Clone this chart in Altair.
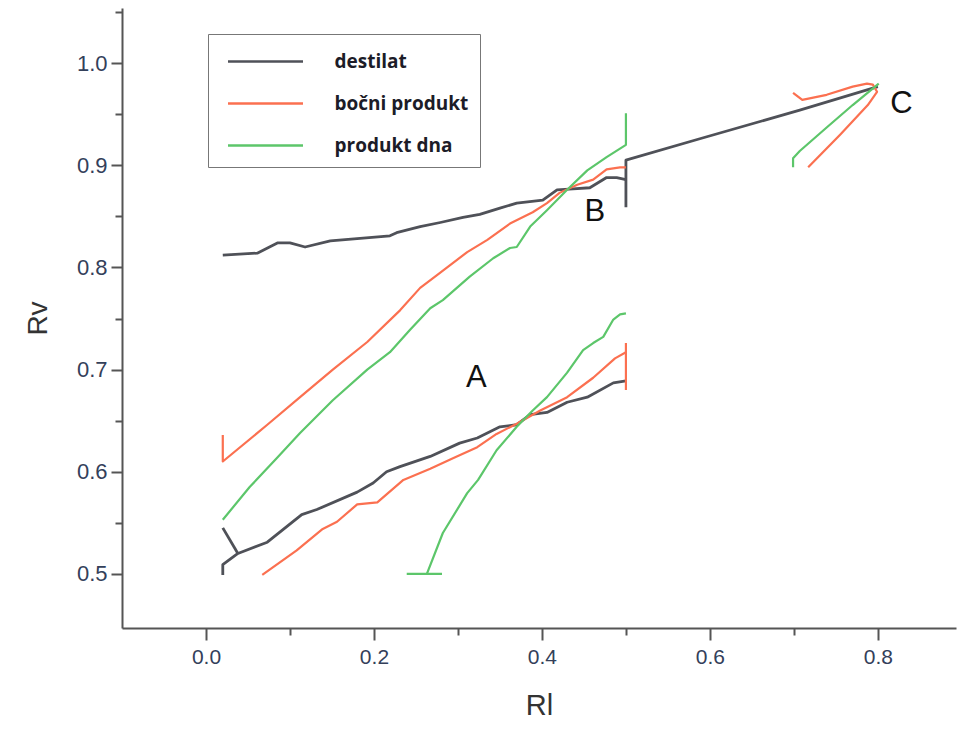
import altair as alt
import pandas as pd

# ---------------- data ----------------
series_names = ["destilat", "bočni produkt", "produkt dna"]
series_colors = ["#4f5158", "#fb7050", "#5cc66a"]

# destilat (gray)
dest_a_x = [0.020, 0.020, 0.038, 0.073, 0.114, 0.132, 0.180, 0.199, 0.215, 0.231, 0.267,
            0.302, 0.323, 0.350, 0.370, 0.386, 0.406, 0.430, 0.454, 0.485, 0.500]
dest_a_y = [0.499, 0.509, 0.520, 0.531, 0.558, 0.563, 0.580, 0.589, 0.600, 0.605, 0.615,
            0.628, 0.633, 0.644, 0.646, 0.656, 0.658, 0.668, 0.673, 0.687, 0.689]
dest_a2_x = [0.020, 0.038]
dest_a2_y = [0.545, 0.520]
dest_b_x = [0.020, 0.061, 0.085, 0.100, 0.118, 0.148, 0.219, 0.227, 0.255, 0.279, 0.306,
            0.326, 0.350, 0.370, 0.401, 0.418, 0.437, 0.457, 0.477, 0.489, 0.500]
dest_b_y = [0.812, 0.814, 0.824, 0.824, 0.820, 0.826, 0.831, 0.834, 0.840, 0.844, 0.849,
            0.852, 0.858, 0.863, 0.866, 0.876, 0.877, 0.878, 0.888, 0.888, 0.886]
dest_c_x = [0.500, 0.500, 0.588, 0.707, 0.800]
dest_c_y = [0.859, 0.905, 0.926, 0.954, 0.977]

# bočni produkt (red)
boc_a_x = [0.067, 0.108, 0.139, 0.156, 0.180, 0.204, 0.235, 0.267, 0.296, 0.323, 0.346,
           0.370, 0.398, 0.430, 0.461, 0.487, 0.500]
boc_a_y = [0.499, 0.523, 0.544, 0.551, 0.568, 0.570, 0.592, 0.603, 0.614, 0.624, 0.637,
           0.647, 0.660, 0.673, 0.692, 0.711, 0.717]
boc_a2_x = [0.500, 0.500]
boc_a2_y = [0.726, 0.680]
boc_b_x = [0.020, 0.020, 0.073, 0.112, 0.151, 0.192, 0.231, 0.255, 0.279, 0.311, 0.335,
           0.362, 0.389, 0.406, 0.421, 0.442, 0.461, 0.477, 0.493, 0.500]
boc_b_y = [0.636, 0.610, 0.646, 0.673, 0.700, 0.727, 0.758, 0.780, 0.795, 0.815, 0.827,
           0.843, 0.854, 0.863, 0.873, 0.881, 0.886, 0.896, 0.898, 0.898]
boc_c_x = [0.699, 0.710, 0.739, 0.770, 0.787, 0.794, 0.799, 0.788, 0.755, 0.717]
boc_c_y = [0.971, 0.964, 0.969, 0.977, 0.980, 0.979, 0.972, 0.959, 0.930, 0.898]

# produkt dna (green)
dna_a_x = [0.263, 0.282, 0.311, 0.324, 0.346, 0.370, 0.389, 0.406, 0.430, 0.449, 0.461,
           0.473, 0.485, 0.493, 0.500]
dna_a_y = [0.500, 0.540, 0.579, 0.592, 0.621, 0.644, 0.660, 0.673, 0.697, 0.719, 0.726,
           0.732, 0.749, 0.754, 0.755]
dna_a2_x = [0.239, 0.281]
dna_a2_y = [0.500, 0.500]
dna_b_x = [0.020, 0.052, 0.085, 0.112, 0.151, 0.192, 0.219, 0.243, 0.267, 0.282, 0.314,
           0.342, 0.362, 0.370, 0.386, 0.406, 0.430, 0.454, 0.477, 0.500, 0.500]
dna_b_y = [0.553, 0.585, 0.614, 0.638, 0.670, 0.700, 0.717, 0.739, 0.760, 0.768, 0.791,
           0.809, 0.819, 0.820, 0.840, 0.856, 0.876, 0.895, 0.908, 0.920, 0.951]
dna_c_x = [0.699, 0.699, 0.707, 0.739, 0.770, 0.801]
dna_c_y = [0.898, 0.907, 0.914, 0.937, 0.959, 0.980]

# region labels
region_labels = ["A", "B", "C"]
region_x = [0.322, 0.463, 0.828]
region_y = [0.692, 0.854, 0.960]

# axis ticks
x_major = [0.0, 0.2, 0.4, 0.6, 0.8]
x_minor = [0.1, 0.3, 0.5, 0.7]
y_major = [0.5, 0.6, 0.7, 0.8, 0.9, 1.0]
y_minor = [0.55, 0.65, 0.75, 0.85, 0.95, 1.05]

# ---------------- build table ----------------
segments = [
    ("destilat", "dA", dest_a_x, dest_a_y),
    ("destilat", "dA2", dest_a2_x, dest_a2_y),
    ("destilat", "dB", dest_b_x, dest_b_y),
    ("destilat", "dC", dest_c_x, dest_c_y),
    ("bočni produkt", "bA", boc_a_x, boc_a_y),
    ("bočni produkt", "bA2", boc_a2_x, boc_a2_y),
    ("bočni produkt", "bB", boc_b_x, boc_b_y),
    ("bočni produkt", "bC", boc_c_x, boc_c_y),
    ("produkt dna", "gA", dna_a_x, dna_a_y),
    ("produkt dna", "gA2", dna_a2_x, dna_a2_y),
    ("produkt dna", "gB", dna_b_x, dna_b_y),
    ("produkt dna", "gC", dna_c_x, dna_c_y),
]
rows = []
for s, seg, xs, ys in segments:
    for i, (xv, yv) in enumerate(zip(xs, ys)):
        rows.append({"series": s, "segment": seg, "i": i, "Rl": xv, "Rv": yv})
df = pd.DataFrame(rows)
lab_df = pd.DataFrame({"Rl": region_x, "Rv": region_y, "t": region_labels})

# ---------------- chart ----------------
x_scale = alt.Scale(domain=[-0.1, 0.893], nice=False, zero=False)
y_scale = alt.Scale(domain=[0.447, 1.054], nice=False, zero=False)

axis_common = dict(
    grid=False,
    domainColor="#555555", domainWidth=2,
    tickColor="#555555", tickWidth=2,
    labelFont="Liberation Sans", labelColor="#33405a",
    titleFont="Liberation Sans", titleFontWeight="normal", titleColor="#333333",
)

x_axis = alt.Axis(
    values=x_major, format=".1f", orient="bottom", tickSize=12,
    labelFontSize=21, labelPadding=6, titleFontSize=29, titlePadding=24,
    **axis_common,
)
y_axis = alt.Axis(
    values=y_major, format=".1f", orient="left", tickSize=11,
    labelFontSize=22, labelPadding=4, titleFontSize=28, titlePadding=24,
    **axis_common,
)
minor_common = dict(
    grid=False, labels=False, domain=False, title=None,
    tickColor="#555555", tickWidth=2, tickSize=7,
)
x_axis_minor = alt.Axis(values=x_minor, orient="bottom", **minor_common)
y_axis_minor = alt.Axis(values=y_minor, orient="left", **minor_common)

lines = alt.Chart(df).mark_line(strokeJoin="round").encode(
    x=alt.X("Rl:Q", scale=x_scale, axis=x_axis, title="Rl"),
    y=alt.Y("Rv:Q", scale=y_scale, axis=y_axis, title="Rv"),
    color=alt.Color(
        "series:N",
        scale=alt.Scale(domain=series_names, range=series_colors),
        legend=alt.Legend(
            title=None, orient="none", legendX=86, legendY=26, padding=11,
            strokeColor="#777777", fillColor="#ffffff", cornerRadius=0,
            symbolType="M-1,0H4", symbolSize=900, symbolStrokeWidth=2.5,
            symbolOffset=7.5, labelOffset=75, rowPadding=15,
            labelFont="Open Sans", labelFontSize=19, labelFontWeight="bold",
            labelColor="#1c1c28",
        ),
    ),
    strokeWidth=alt.condition(alt.datum.series == "destilat", alt.value(2.8), alt.value(2.2)),
    detail="segment:N",
    order="i:Q",
)

texts = alt.Chart(lab_df).mark_text(fontSize=31, font="Liberation Sans", color="#111111").encode(
    x=alt.X("Rl:Q", scale=x_scale, axis=x_axis_minor),
    y=alt.Y("Rv:Q", scale=y_scale, axis=y_axis_minor),
    text="t:N",
)

chart = alt.layer(lines, texts).resolve_axis(x="independent", y="independent").properties(
    width=834, height=620,
    autosize=alt.AutoSizeParams(type="none"),
    padding={"left": 122, "top": 8, "right": 1, "bottom": 103},
    background="#ffffff",
).configure_view(strokeWidth=0)

chart.save("out.html", embed_options={"renderer": "svg", "actions": False})
